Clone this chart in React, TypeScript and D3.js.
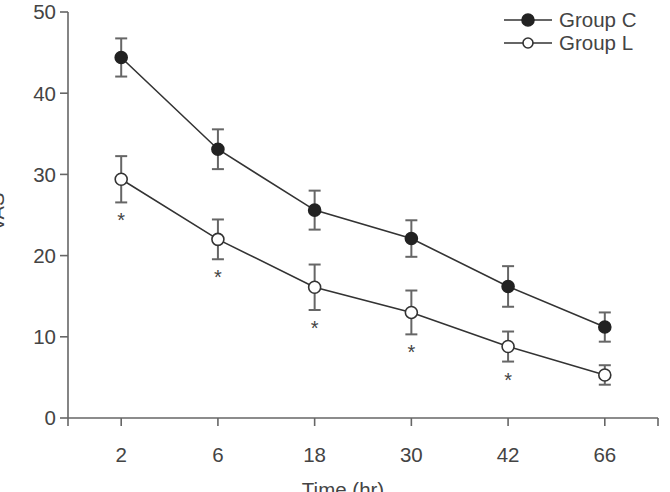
import * as React from 'react';
import * as d3 from 'd3';

const times = ['2', '6', '18', '30', '42', '66'];
const groupC = [44.4, 33.1, 25.6, 22.1, 16.2, 11.2];
const groupCErr = [2.35, 2.45, 2.4, 2.25, 2.5, 1.8];
const groupL = [29.4, 22.0, 16.1, 13.0, 8.8, 5.3];
const groupLErr = [2.85, 2.45, 2.8, 2.7, 1.85, 1.2];
const significant = [true, true, true, true, true, false];
const yTicks = [0, 10, 20, 30, 40, 50];

const width = 670;
const height = 492;
const margin = { top: 12, right: 12, bottom: 74, left: 68 };

const font = '"Liberation Sans", Arial, Helvetica, sans-serif';
const textColor = '#444';
const axisColor = '#666';
const lineColor = '#333';
const errColor = '#666';

interface ISeries {
  name: string;
  values: number[];
  errors: number[];
  filled: boolean;
}

const series: ISeries[] = [
  { name: 'Group C', values: groupC, errors: groupCErr, filled: true },
  { name: 'Group L', values: groupL, errors: groupLErr, filled: false },
];

export default function App() {
  const x = d3
    .scalePoint<string>()
    .domain(times)
    .range([margin.left, width - margin.right])
    .padding(0.55);

  const y = d3
    .scaleLinear()
    .domain([0, 50])
    .range([height - margin.bottom, margin.top]);

  const line = d3
    .line<number>()
    .x((_, i) => x(times[i]) as number)
    .y(d => y(d));

  const x0 = margin.left;
  const x1 = width - margin.right;
  const y0 = y(0);
  const tickLen = 8;
  const cap = 6;

  return (
    <svg
      width={width}
      height={height}
      style={{ position: 'absolute', left: 0, top: 0, background: '#fff' }}
      fontFamily={font}
    >
      {/* y axis */}
      <line x1={x0} x2={x0} y1={y(50)} y2={y0 + tickLen} stroke={axisColor} strokeWidth={1.6} />
      {yTicks.map(t => (
        <g key={t}>
          <line x1={x0 - tickLen} x2={x0} y1={y(t)} y2={y(t)} stroke={axisColor} strokeWidth={1.6} />
          <text
            x={x0 - 12}
            y={y(t)}
            dy="0.36em"
            textAnchor="end"
            fontSize={20.5}
            fill={textColor}
          >
            {t}
          </text>
        </g>
      ))}
      {/* the reference crops this label at the left edge */}
      <text
        transform={`translate(4,212) rotate(-90)`}
        textAnchor="middle"
        fontSize={20}
        fill={textColor}
      >
        VAS
      </text>

      {/* x axis */}
      <line x1={x0} x2={x1} y1={y0} y2={y0} stroke={axisColor} strokeWidth={1.6} />
      <line x1={x1} x2={x1} y1={y0} y2={y0 + tickLen} stroke={axisColor} strokeWidth={1.6} />
      {times.map(t => (
        <g key={t}>
          <line
            x1={x(t)}
            x2={x(t)}
            y1={y0}
            y2={y0 + tickLen}
            stroke={axisColor}
            strokeWidth={1.6}
          />
          <text
            x={x(t)}
            y={y0 + 44}
            textAnchor="middle"
            fontSize={20.5}
            fill={textColor}
          >
            {t}
          </text>
        </g>
      ))}
      <text x={(x0 + x1) / 2 - 20} y={y0 + 79} textAnchor="middle" fontSize={20.5} fill={textColor}>
        Time (hr)
      </text>

      {/* series */}
      {series.map(s => (
        <g key={s.name}>
          {s.values.map((v, i) => {
            const cx = x(times[i]) as number;
            return (
              <g key={i} stroke={errColor} strokeWidth={2}>
                <line x1={cx} x2={cx} y1={y(v - s.errors[i])} y2={y(v + s.errors[i])} />
                <line x1={cx - cap} x2={cx + cap} y1={y(v + s.errors[i])} y2={y(v + s.errors[i])} />
                <line x1={cx - cap} x2={cx + cap} y1={y(v - s.errors[i])} y2={y(v - s.errors[i])} />
              </g>
            );
          })}
          <path d={line(s.values) || ''} fill="none" stroke={lineColor} strokeWidth={1.6} />
          {s.values.map((v, i) => (
            <circle
              key={i}
              cx={x(times[i])}
              cy={y(v)}
              r={6}
              fill={s.filled ? '#222' : '#fff'}
              stroke={s.filled ? '#222' : lineColor}
              strokeWidth={1.6}
            />
          ))}
        </g>
      ))}

      {/* significance marks */}
      {groupL.map((v, i) =>
        significant[i] ? (
          <text
            key={i}
            x={x(times[i])}
            y={y(v - groupLErr[i]) + 25}
            textAnchor="middle"
            fontSize={20}
            fill={textColor}
          >
            *
          </text>
        ) : null,
      )}

      {/* legend */}
      {series.map((s, i) => {
        const ly = 20 + i * 23;
        return (
          <g key={s.name}>
            <line x1={504} x2={552} y1={ly} y2={ly} stroke={lineColor} strokeWidth={1.6} />
            <circle
              cx={528}
              cy={ly}
              r={s.filled ? 6 : 5}
              fill={s.filled ? '#222' : '#fff'}
              stroke={s.filled ? '#222' : lineColor}
              strokeWidth={1.6}
            />
            <text x={559} y={ly} dy="0.36em" fontSize={20.5} fill={textColor}>
              {s.name}
            </text>
          </g>
        );
      })}
    </svg>
  );
}
